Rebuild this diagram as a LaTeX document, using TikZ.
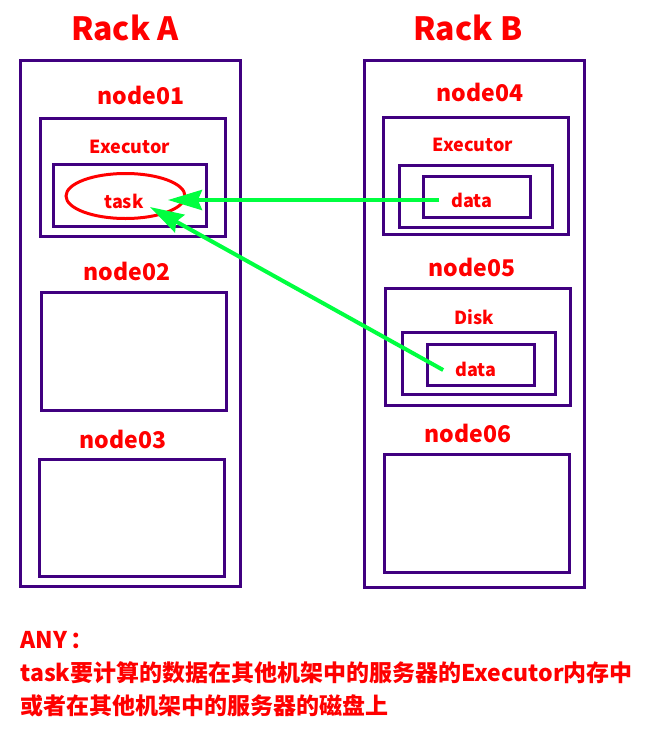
\documentclass[tikz,border=0pt]{standalone}
\usepackage{fontspec}
\setmainfont{Noto Sans CJK SC}
\usepackage{tikz}
\usetikzlibrary{arrows.meta,shapes.geometric,calc}

\definecolor{boxc}{RGB}{64,0,128}
\definecolor{txtc}{RGB}{255,0,0}
\definecolor{arrc}{RGB}{0,255,64}

\tikzset{
  box/.style={draw=boxc, line width=1.5pt, inner sep=0pt},
  lbl/.style={text=txtc, font=\bfseries\fontsize{11.5}{13}\selectfont, inner sep=0pt},
  rack/.style={text=txtc, font=\bfseries\fontsize{16}{18}\selectfont, inner sep=0pt},
  small/.style={text=txtc, font=\bfseries\fontsize{9}{11}\selectfont, inner sep=0pt},
  flow/.style={draw=arrc, line width=2pt, -{Stealth[length=17pt,width=10pt,inset=2pt]}}
}

\begin{document}
\begin{tikzpicture}[x=0.5pt, y=-0.5pt]
        \useasboundingbox (0,0) rectangle (648,734);

        % racks
        \node[box, minimum width=110pt, minimum height=263pt] (rackA) at (130,323) {};
        \node[box, minimum width=110pt, minimum height=263.5pt] (rackB) at (474,323.5) {};
        \node[rack] (rackAt) at (125,28) {Rack A};
        \node[rack] (rackBt) at (468,28) {Rack B};

        % rack A
        \node[lbl] (n01) at (141,95) {node01};
        \node[box, minimum width=92.5pt, minimum height=59pt] (exeA) at (132.5,177) {};
        \node[small] (exeAt) at (130,147) {Executor};
        \node[box, minimum width=76.5pt, minimum height=31pt] (memA) at (129.5,195) {};
        \node[ellipse, draw=txtc, line width=1.5pt, minimum width=59.5pt, minimum height=22.5pt, inner sep=0pt] (ring) at (125.5,196) {};
        \node[small] (task) at (124,201) {task};
        \node[lbl] (n02) at (127,271) {node02};
        \node[box, minimum width=92.5pt, minimum height=59pt] (box02) at (133.5,351) {};
        \node[lbl] (n03) at (123,439) {node03};
        \node[box, minimum width=92.5pt, minimum height=58.5pt] (box03) at (131.5,517.5) {};

        % rack B
        \node[lbl] (n04) at (480,92) {node04};
        \node[box, minimum width=92.5pt, minimum height=58.5pt] (exeB) at (475.5,175.5) {};
        \node[small] (exeBt) at (473,145) {Executor};
        \node[box, minimum width=76.5pt, minimum height=31pt] (memB) at (475.5,196) {};
        \node[box, minimum width=53.5pt, minimum height=20.5pt] (cell4) at (476.5,196.5) {};
        \node[small] (data4) at (472,200) {data};
        \node[lbl] (n05) at (472,267) {node05};
        \node[box, minimum width=92.5pt, minimum height=58.5pt] (disk) at (477.5,346.5) {};
        \node[small] (diskt) at (474,317) {Disk};
        \node[box, minimum width=76.5pt, minimum height=31pt] (mid5) at (478.5,363) {};
        \node[box, minimum width=53.5pt, minimum height=20.5pt] (cell5) at (480.5,364.5) {};
        \node[small] (data5) at (476,369) {data};
        \node[lbl] (n06) at (468,433) {node06};
        \node[box, minimum width=92.5pt, minimum height=59pt] (box06) at (476.5,513) {};

        % data flows
        \draw[flow] ($(data4.west)+(-12,0)$) -- ($(task.east)+(24,-1)$);
        \draw[flow] ($(data5.west)+(-12,1)$) -- ($(task.east)+(6,6)$);

        % note
        \node[text=txtc, font=\bfseries\fontsize{11.5}{16.5}\selectfont, align=left, anchor=west, inner sep=0pt] (note) at (20,674)
          {ANY\,：\\task要计算的数据在其他机架中的服务器的Executor内存中\\或者在其他机架中的服务器的磁盘上};
    \end{tikzpicture}
\end{document}
